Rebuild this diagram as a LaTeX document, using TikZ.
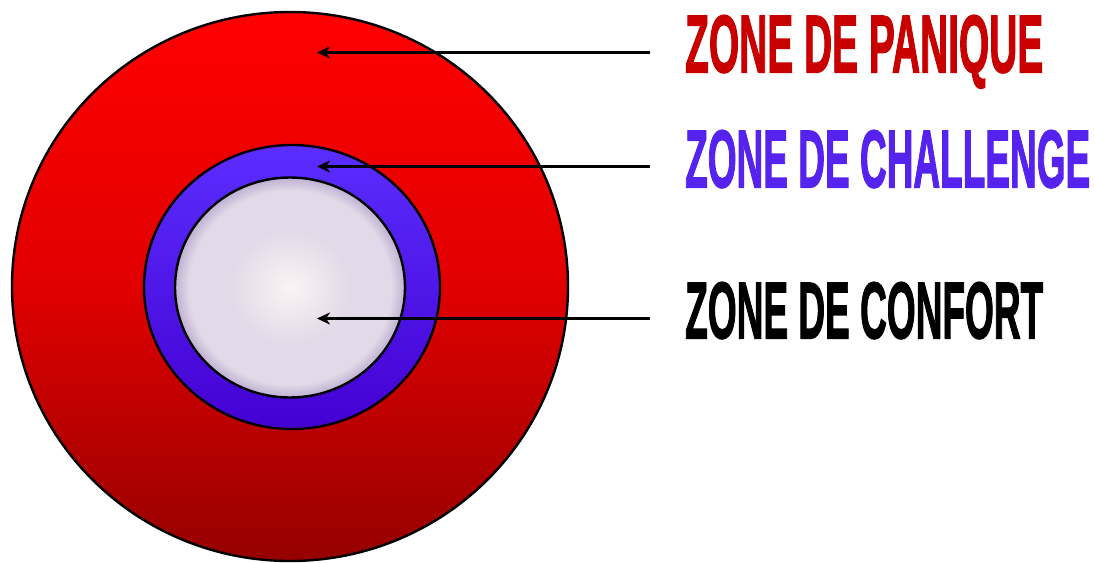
\documentclass[tikz,border=0pt]{standalone}
\usepackage{fontspec}
\usepackage{graphicx}
\setmainfont{Liberation Sans}
\newfontfamily\heavy{Liberation Sans}[BoldFeatures={FakeBold=2}]
\usetikzlibrary{arrows.meta}
\definecolor{redtop}{HTML}{FF0000}
\definecolor{redbot}{HTML}{960000}
\definecolor{bluetop}{HTML}{5A2EFF}
\definecolor{bluebot}{HTML}{4400D2}
\definecolor{cfA}{HTML}{FAF4F4}
\definecolor{cfB}{HTML}{E2DAE8}
\definecolor{cfC}{HTML}{BFAFD2}
\definecolor{panic}{HTML}{C80000}
\definecolor{chall}{HTML}{5522EE}
\pgfdeclareradialshading{comfort}{\pgfpoint{0bp}{0bp}}{color(0bp)=(cfA); color(13bp)=(cfB); color(22bp)=(cfB); color(25bp)=(cfC); color(50bp)=(cfC)}
\tikzset{
  ring/.style={draw=black, line width=2.4pt},
  arr/.style={line width=2.4pt, -{Stealth[length=13pt, width=12pt, inset=4pt]}},
  label/.style={anchor=north west, inner sep=0pt, font=\heavy\bfseries},
}
\begin{document}
\begin{tikzpicture}[x=1pt,y=-1pt]
\useasboundingbox (0,0) rectangle (1094,562);
\begin{scope}
  \clip (0,0) rectangle (1094,562);
  \draw[ring, top color=redtop, bottom color=redbot, middle color=red!88!black] (290,286.5) ellipse [x radius=278, y radius=274.5];
\end{scope}
\draw[ring, top color=bluetop, bottom color=bluebot] (292,287) ellipse [x radius=148, y radius=142];
\draw[ring, shading=comfort] (290,287.5) ellipse [x radius=115, y radius=110];

\node[label, text=panic] (tp) at (685,15) {\resizebox{358pt}{57pt}{ZONE DE PANIQUE}};
\node[label, text=chall] (tc) at (685,130) {\resizebox{405pt}{57pt}{ZONE DE CHALLENGE}};
\node[label, text=black] (tf) at (685,282) {\resizebox{358pt}{56pt}{ZONE DE CONFORT}};

\coordinate (s1) at (650,52.5);
\coordinate (e1) at (317,52.5);
\coordinate (s2) at (650,166.5);
\coordinate (e2) at (317,166.5);
\coordinate (s3) at (650,318.5);
\coordinate (e3) at (317,318.5);
\draw[arr] (s1) -- (e1);
\draw[arr] (s2) -- (e2);
\draw[arr] (s3) -- (e3);
\end{tikzpicture}
\end{document}
